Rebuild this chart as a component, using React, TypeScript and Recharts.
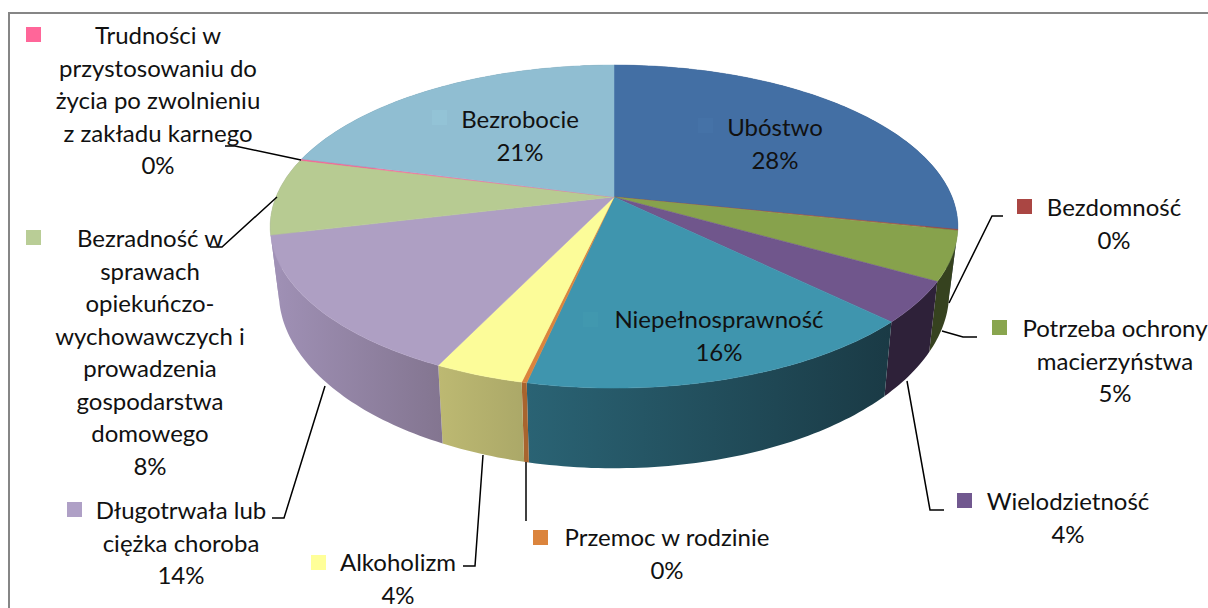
import { PieChart, Pie } from "recharts";

const categories = [
  "Ubóstwo",
  "Bezdomność",
  "Potrzeba ochrony macierzyństwa",
  "Wielodzietność",
  "Niepełnosprawność",
  "Przemoc w rodzinie",
  "Alkoholizm",
  "Długotrwała lub ciężka choroba",
  "Bezradność w sprawach opiekuńczo-wychowawczych i prowadzenia gospodarstwa domowego",
  "Trudności w przystosowaniu do życia po zwolnieniu z zakładu karnego",
  "Bezrobocie",
];
const values = [28.2, 0.1, 4.9, 4.1, 16.1, 0.2, 3.55, 14.1, 7.7, 0.15, 20.9];

const topColors = ["#436FA4", "#AA4643", "#87A24C", "#70568C", "#3F95AE", "#DB843D", "#FCFC99", "#AE9FC3", "#B7CB92", "#FF6699", "#90BED2"];
const keyColors = ["#4572A7", "#AA4643", "#89A54E", "#71588F", "#4198AF", "#DB843D", "#FFFF99", "#AFA0C6", "#B9CD96", "#FF6699", "#93C3D6"];
const wallLeft = ["#2B4668", "#6A2C2A", "#36421F", "#2E2139", "#2A6374", "#A8642E", "#BDB972", "#A091B6", "#A091B6", "#A091B6", "#5E7D8A"];
const wallRight = ["#2B4668", "#6A2C2A", "#36421F", "#2E2139", "#1A3A45", "#A8642E", "#ABA868", "#837590", "#A091B6", "#A091B6", "#5E7D8A"];

// wrapped text of each data label
const labelLines = [
  ["Ubóstwo"],
  ["Bezdomność"],
  ["Potrzeba ochrony", "macierzyństwa"],
  ["Wielodzietność"],
  ["Niepełnosprawność"],
  ["Przemoc w rodzinie"],
  ["Alkoholizm"],
  ["Długotrwała lub", "ciężka choroba"],
  ["Bezradność w", "sprawach", "opiekuńczo-", "wychowawczych i", "prowadzenia", "gospodarstwa", "domowego"],
  ["Trudności w", "przystosowaniu do", "życia po zwolnieniu", "z zakładu karnego"],
  ["Bezrobocie"],
];
// label centre, first baseline, legend key corner
const labelX = [775, 1114, 1115, 1068, 719, 667, 398, 181, 150, 158, 520];
const labelY = [136, 216, 337, 510, 328, 546, 571, 519, 247, 44, 128];
const keyX = [698, 1017, 992, 957, 583, 533, 311, 67, 26, 26, 432];
const keyY = [118, 199, 320, 493, 312, 530, 555, 502, 230, 27, 110];
const leaders = [
  "",
  "1003,216 992,216 949,303",
  "977,337 963,337 942,331",
  "944,510 930,510 907,381",
  "",
  "526,462 526,521",
  "463,566 475,566 483,455",
  "272,518 284,518 325,386",
  "210,247 222,247 277,197",
  "225,146 235,146 301,160",
  "",
];

const LINE_STEP = 32.5;
const TILT = 156.1; // vertical scale of the projected disc
const PERSPECTIVE = -0.183;
const BOTTOM_SCALE_X = 0.975;
const BOTTOM_SCALE_Y = 1.09;
const BOTTOM_SHIFT = 63;

const data = categories.map((name, i) => ({ name, value: values[i] }));

// recharts gives angles in degrees, counter clockwise from 3 o'clock
const project = (cx: number, cy: number, r: number, deg: number, bottom: boolean) => {
  const a = (deg * Math.PI) / 180;
  const u = Math.cos(a);
  const v = -Math.sin(a);
  const w = 1 + PERSPECTIVE * v;
  const px = (r * u) / w;
  const py = (TILT * v) / w;
  if (bottom) return [cx + px * BOTTOM_SCALE_X, cy + py * BOTTOM_SCALE_Y + BOTTOM_SHIFT];
  return [cx + px, cy + py];
};

const arcPoints = (p: any, bottom: boolean) => {
  const pts = [];
  const n = Math.max(2, Math.ceil(Math.abs(p.endAngle - p.startAngle)));
  for (let i = 0; i <= n; i++) {
    const deg = p.startAngle + ((p.endAngle - p.startAngle) * i) / n;
    pts.push(project(p.cx, p.cy, p.outerRadius, deg, bottom));
  }
  return pts;
};

const toPath = (pts: number[][]) =>
  "M" + pts.map((q) => q[0].toFixed(1) + " " + q[1].toFixed(1)).join("L") + "Z";

const WallShape = (props: any) => {
  const top = arcPoints(props, false);
  const bottom = arcPoints(props, true).reverse();
  const id = "wall" + props.index;
  return (
    <g>
      <defs>
        <linearGradient id={id} x1="0" y1="0" x2="1" y2="0">
          <stop offset="0" stopColor={wallLeft[props.index]} />
          <stop offset="1" stopColor={wallRight[props.index]} />
        </linearGradient>
      </defs>
      <path d={toPath([...top, ...bottom])} fill={`url(#${id})`} />
    </g>
  );
};

const TopShape = (props: any) => {
  const pts = [[props.cx, props.cy], ...arcPoints(props, false)];
  const color = topColors[props.index];
  // thin stroke keeps the tiny slices from breaking up into dashes
  return <path d={toPath(pts)} fill={color} stroke={color} strokeWidth={0.5} />;
};

const renderLabel = (props: any) => {
  const i = props.index;
  const lines = [...labelLines[i], Math.round(props.percent * 100) + "%"];
  return (
    <g key={i}>
      {leaders[i] && <polyline points={leaders[i]} fill="none" stroke="#000" strokeWidth={1.5} />}
      <rect x={keyX[i]} y={keyY[i]} width={15} height={15} fill={keyColors[i]} />
      <text
        textAnchor="middle"
        fontFamily="Lato"
        fontSize={24}
        fill="#111"
      >
        {lines.map((line, j) => (
          <tspan key={j} x={labelX[i]} y={labelY[i] + j * LINE_STEP}>
            {line}
          </tspan>
        ))}
      </text>
    </g>
  );
};

const App = () => {
  return (
    <div style={{ position: "absolute", left: 0, top: 0, width: 1208, height: 608, overflow: "hidden", background: "#fff" }}>
      <div
        style={{
          position: "absolute",
          left: 8,
          top: 12,
          width: 1300,
          height: 700,
          border: "2px solid #868686",
        }}
      />
      <div style={{ position: "absolute", left: 0, top: 0 }}>
        <PieChart width={1208} height={608} margin={{ top: 0, right: 0, bottom: 0, left: 0 }}>
          <Pie
            data={data}
            dataKey="value"
            nameKey="name"
            cx={614}
            cy={197}
            outerRadius={338}
            startAngle={90}
            endAngle={-270}
            stroke="none"
            shape={WallShape}
            isAnimationActive={false}
          />
          <Pie
            data={data}
            dataKey="value"
            nameKey="name"
            cx={614}
            cy={197}
            outerRadius={338}
            startAngle={90}
            endAngle={-270}
            stroke="none"
            shape={TopShape}
            label={renderLabel}
            labelLine={false}
            isAnimationActive={false}
          />
        </PieChart>
      </div>
    </div>
  );
};

export default App;
